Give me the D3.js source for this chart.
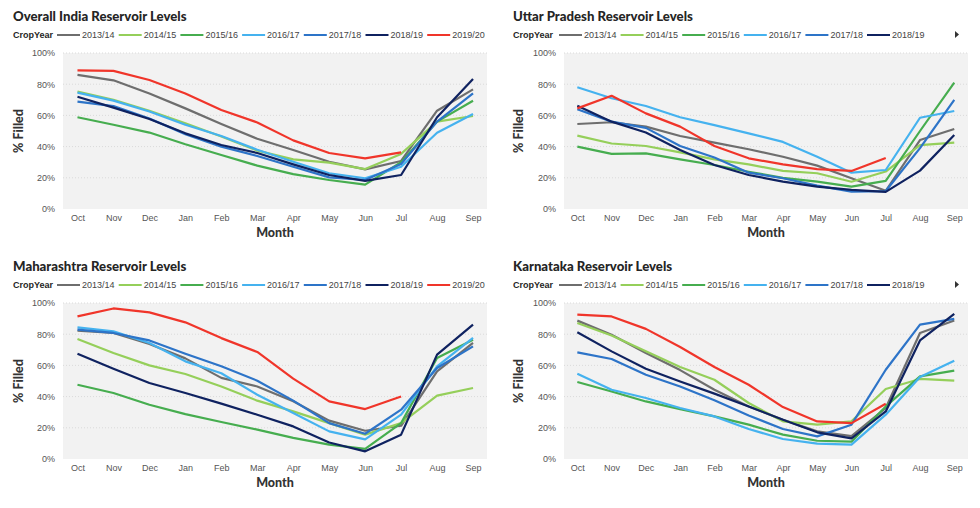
<!DOCTYPE html>
<html><head><meta charset="utf-8">
<script src="https://cdn.jsdelivr.net/npm/d3@7/dist/d3.min.js"></script>
<style>
html,body{margin:0;padding:0;background:#fff;}
svg{display:block;}
</style></head>
<body>
<svg id="chart" width="980" height="508"></svg>
<script>
const months = ["Oct","Nov","Dec","Jan","Feb","Mar","Apr","May","Jun","Jul","Aug","Sep"];
const years = ["2013/14","2014/15","2015/16","2016/17","2017/18","2018/19","2019/20"];
const yTicks = [0,20,40,60,80,100];

// Overall India (% filled), one array per crop year
const india = [
  [86, 82.5, 74, 64.5, 54.5, 45, 37.8, 30.3, 25.4, 30.8, 63, 76.7],
  [75.2, 70, 63, 55, 46.5, 37.4, 31.8, 29.7, 25.6, 35.3, 56, 59.6],
  [58.8, 54, 49, 41.5, 34.6, 27.8, 22.4, 18.6, 15.6, 30, 56, 69.4],
  [74.6, 69.5, 62.5, 54, 46.8, 38, 30.3, 22.9, 19.7, 27.1, 48.9, 60.9],
  [68.8, 66, 58, 48, 40, 34, 27.1, 20.3, 18.6, 28.8, 56, 74.1],
  [72, 65, 57.7, 48.5, 41, 35.9, 28.6, 21.8, 18, 21.8, 58.8, 83.3],
  [88.9, 88.5, 82.7, 74, 63.5, 55.5, 44, 35.9, 32.5, 36.3, null, null]
];
// Uttar Pradesh
const uttarPradesh = [
  [54.5, 55.6, 52.8, 46.8, 42.5, 38.3, 33.5, 27.8, 19.7, 11.7, 44.2, 51.3],
  [47, 42, 40.4, 36.3, 31.8, 28.6, 24.4, 22.9, 17.5, 24, 41, 42.5],
  [40, 35.3, 35.7, 31.8, 28.2, 23.9, 20, 17.5, 14.3, 18, 50, 81],
  [78, 71, 66, 58.8, 53.8, 48.5, 43, 33.5, 23.3, 25, 58.5, 62.8],
  [64, 56, 52, 40.4, 33, 23.3, 19.7, 15, 11.1, 11.5, 39, 69.9],
  [66.2, 56, 49, 37.8, 28.2, 21.8, 17.5, 14.3, 12.2, 11, 24.6, 47.4],
  [64.5, 72.6, 61.3, 52.8, 40.4, 32.5, 28.6, 25.6, 24.4, 32.7, null, null]
];
// Maharashtra
const maharashtra = [
  [82.2, 80.8, 73.7, 64.5, 52, 46.5, 37, 24.6, 18.1, 21.3, 56.2, 74.4],
  [76.9, 67.9, 60, 54.5, 46.5, 37.4, 30.5, 23, 15.6, 23, 40.6, 45.5],
  [47.6, 42.3, 34.8, 28.8, 23.7, 18.8, 13.5, 9.2, 6.5, 23, 64.7, 76.5],
  [84.4, 81.8, 74.4, 62.6, 55, 41.2, 29.5, 17.7, 12.6, 28.4, 59.4, 77.6],
  [82.9, 80.8, 76, 67.5, 59.4, 50.2, 37.4, 23, 16.2, 31.6, 58.3, 72.2],
  [67.5, 57.9, 48.7, 42.3, 35.5, 28.4, 20.9, 10.6, 4.9, 15.6, 66.9, 86.1],
  [91.4, 96.5, 94, 87.6, 77.5, 68.6, 51.5, 36.9, 32, 40.1, null, null]
];
// Karnataka
const karnataka = [
  [88.7, 79.7, 68, 57, 44.4, 33.7, 25.2, 17.7, 14.7, 32.7, 80.8, 88.8],
  [87.2, 79.2, 69, 59, 50.8, 35.9, 24.1, 22, 24.1, 44.9, 51.3, 50.2],
  [49.4, 43.3, 36.9, 32, 27.3, 22, 15.6, 11.7, 11.1, 33.7, 53, 56.6],
  [54.7, 44.4, 39.1, 32.7, 27.3, 19.2, 12.8, 9.8, 9.2, 28.4, 52.6, 63],
  [68.4, 64.1, 54, 46.5, 37.6, 27.9, 19.2, 14.5, 22, 57.2, 86.1, 89.8],
  [81.2, 69, 57.9, 49.7, 41.9, 33.7, 25.2, 17.1, 13.2, 30.5, 76, 93.1],
  [92.5, 91.4, 83.4, 71.8, 59, 47.6, 33.3, 24.1, 23, 35.4, null, null]
];

const colors = ["#6e6e6e","#95cf5a","#46ad4f","#45b2ef","#2d74c8","#0f2260","#f0352a"];

const panels = [
  {title:"Overall India Reservoir Levels", data:india, oy:0, bg:[63,487], range:[59.5,491], legendN:7, legendStep:61.7, legendX:57, arrow:false},
  {title:"Uttar Pradesh Reservoir Levels", data:uttarPradesh, oy:0, bg:[564,968], range:[560.2,971.4], legendN:6, legendStep:61.6, legendX:559, arrow:true},
  {title:"Maharashtra Reservoir Levels", data:maharashtra, oy:250, bg:[63,487], range:[59.5,491], legendN:7, legendStep:61.7, legendX:57, arrow:false},
  {title:"Karnataka Reservoir Levels", data:karnataka, oy:250, bg:[564,968], range:[560.2,971.4], legendN:6, legendStep:61.6, legendX:559, arrow:true}
];

const svg = d3.select("#chart");
const sans = "'Liberation Sans', Arial, sans-serif";
const head = "Lato, 'Open Sans', sans-serif";

panels.forEach(p => {
  const left = p.bg[0] < 200 ? 13 : 513;
  const g = svg.append("g").attr("transform", `translate(0,${p.oy})`);
  const x = d3.scalePoint().domain(months).range(p.range).padding(0.5);
  const y = d3.scaleLinear().domain([0,100]).range([209,53]);

  // title
  g.append("text").attr("x", left).attr("y", 21)
    .attr("font-family", head).attr("font-weight", 900).attr("font-size", 13.2)
    .attr("fill", "#252525").text(p.title);

  // legend
  const lg = g.append("g").attr("transform", "translate(0,38)");
  lg.append("text").attr("x", left).attr("y", 0)
    .attr("font-family", sans).attr("font-weight", 700).attr("font-size", 9)
    .attr("fill", "#252525").text("CropYear");
  years.slice(0, p.legendN).forEach((yr, i) => {
    const lx = p.legendX + i * p.legendStep;
    lg.append("line").attr("x1", lx).attr("x2", lx + 23).attr("y1", -3).attr("y2", -3)
      .attr("stroke", colors[i]).attr("stroke-width", 2);
    lg.append("text").attr("x", lx + 25).attr("y", 0)
      .attr("font-family", sans).attr("font-size", 9).attr("fill", "#444").text(yr);
  });
  if (p.arrow) {
    lg.append("path").attr("d", "M955,-7 L959,-3.5 L955,0 Z").attr("fill", "#333");
  }

  // plot background
  g.append("rect").attr("x", p.bg[0]).attr("y", y(100))
    .attr("width", p.bg[1] - p.bg[0]).attr("height", y(0) - y(100))
    .attr("fill", "#f2f2f2");

  // gridlines
  g.selectAll(".grid").data(yTicks.filter(t => t > 0)).enter().append("line")
    .attr("x1", p.bg[0]).attr("x2", p.bg[1])
    .attr("y1", d => y(d)).attr("y2", d => y(d))
    .attr("stroke", "#dadada").attr("stroke-width", 1).attr("stroke-dasharray", "1,2");

  // y axis
  const ya = g.append("g").attr("transform", `translate(${p.bg[0] - 8},0)`)
    .call(d3.axisLeft(y).tickValues(yTicks).tickFormat(d => d + "%").tickSize(0).tickPadding(0));
  ya.select(".domain").remove();
  ya.selectAll("text").attr("font-family", sans).attr("font-size", 9).attr("fill", "#555");

  // x axis
  const xa = g.append("g").attr("transform", `translate(0,${y(0)})`)
    .call(d3.axisBottom(x).tickSize(0).tickPadding(6));
  xa.select(".domain").remove();
  xa.selectAll("text").attr("font-family", sans).attr("font-size", 9).attr("fill", "#555");

  // axis titles
  g.append("text").attr("x", (p.bg[0] + p.bg[1]) / 2).attr("y", 237)
    .attr("text-anchor", "middle").attr("font-family", head).attr("font-weight", 900)
    .attr("font-size", 12.5).attr("fill", "#333").text("Month");
  g.append("text").attr("transform", `translate(${left + 10},${(y(0) + y(100)) / 2}) rotate(-90)`)
    .attr("text-anchor", "middle").attr("font-family", head).attr("font-weight", 900)
    .attr("font-size", 12.5).attr("fill", "#333").text("% Filled");

  // lines
  const line = d3.line()
    .defined(d => d != null)
    .x((d, i) => x(months[i]))
    .y(d => y(d));
  p.data.forEach((series, i) => {
    g.append("path").datum(series).attr("d", line)
      .attr("fill", "none").attr("stroke", colors[i]).attr("stroke-width", 2.2)
      .attr("stroke-linejoin", "round");
  });
});
</script>
</body></html>
